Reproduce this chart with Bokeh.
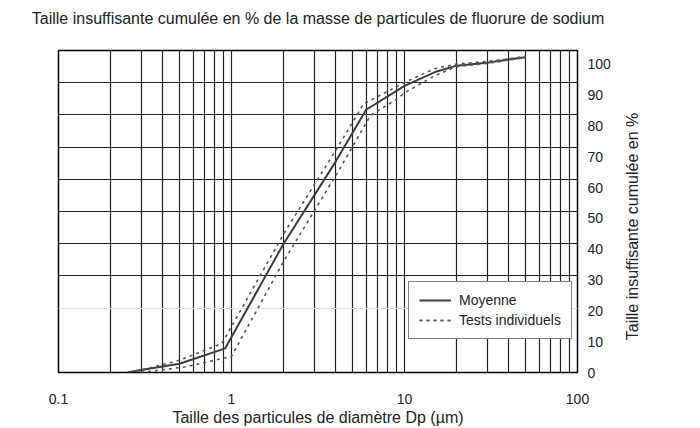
from bokeh.plotting import figure
from bokeh.layouts import row, column
from bokeh.models import Range1d, LinearAxis, FixedTicker, Grid, Legend, LegendItem, Spacer
from bokeh.embed import file_html
from bokeh.resources import INLINE

# Data
mean_x = [0.25, 0.3, 0.5, 0.92, 2, 4, 6, 10, 15, 20, 30, 40, 50]
mean_y = [0, 0.8, 2.7, 7.5, 40, 65.5, 81.6, 89, 93.3, 95.3, 96.2, 97.2, 97.9]

test1_x = [0.28, 0.5, 0.88, 2, 4.17, 5.8, 9.7, 14.8, 20, 30, 40, 50]
test1_y = [0.3, 3.8, 9, 43, 70.5, 83.4, 89.7, 94.3, 95.8, 96.6, 97.4, 98.2]

test2_x = [0.3, 0.55, 1.0, 2, 4.17, 6.35, 8.9, 10.1, 15, 20, 30, 40, 50]
test2_y = [0, 1.8, 5, 34.5, 62.7, 79.8, 84.7, 87, 92.2, 95, 96, 97, 97.8]

x_ticks = [0.1, 1, 10, 100]
x_minor = [m * d for d in [0.1, 1, 10] for m in range(2, 10)]
y_ticks = [0, 10, 20, 30, 40, 50, 60, 70, 80, 90, 100]
y_grid_ticks = [30, 40, 50, 60, 70, 80, 90]

TITLE = "Taille insuffisante cumulée en % de la masse de particules de fluorure de sodium"
FONT = "Liberation Sans"
DARK = "#222222"

p = figure(width=620, height=428, x_axis_type="log",
           x_range=Range1d(0.1, 100), y_range=Range1d(0, 100),
           y_axis_location=None, title_location=None,
           output_backend="svg", toolbar_location=None,
           min_border_left=58, min_border_right=43, min_border_top=50, min_border_bottom=56)

p.background_fill_color = "white"
p.border_fill_color = "white"
p.outline_line_color = "black"
p.outline_line_width = 1.5

# x axis (bottom)
xa = p.below[0]
xa.ticker = FixedTicker(ticks=x_ticks, minor_ticks=x_minor)
xa.major_label_overrides = {0.1: "0.1", 1: "1", 10: "10", 100: "100"}
xa.axis_line_color = None
xa.major_tick_line_color = None
xa.minor_tick_line_color = None
xa.major_label_standoff = 15
xa.major_label_text_font = FONT
xa.major_label_text_font_size = "14px"
xa.major_label_text_color = DARK
xa.axis_label = "Taille des particules de diamètre Dp (µm)"
xa.axis_label_text_font = FONT
xa.axis_label_text_font_size = "16px"
xa.axis_label_text_font_style = "normal"
xa.axis_label_text_color = DARK
xa.axis_label_standoff = 2

p.xgrid.grid_line_color = DARK
p.xgrid.grid_line_width = 1.2
p.xgrid.minor_grid_line_color = DARK
p.xgrid.minor_grid_line_width = 1.2

# the chart title, carried by a tick-less axis above the frame
top_axis = LinearAxis(ticker=FixedTicker(ticks=[]), axis_line_color=None,
                      major_tick_line_color=None, minor_tick_line_color=None,
                      major_tick_out=0, major_tick_in=0, major_label_standoff=0)
top_axis.axis_label = TITLE
top_axis.axis_label_text_font = FONT
top_axis.axis_label_text_font_size = "16px"
top_axis.axis_label_text_font_style = "normal"
top_axis.axis_label_text_color = DARK
top_axis.axis_label_standoff = 24
p.add_layout(top_axis, "above")

yg = Grid(dimension=1, ticker=FixedTicker(ticks=y_grid_ticks),
          grid_line_color=DARK, grid_line_width=1.2)
p.add_layout(yg)

# right axis (its labels follow their own slightly tighter spacing)
p.extra_y_ranges = {"lab": Range1d(0, 104.5)}
ya = LinearAxis(y_range_name="lab", ticker=FixedTicker(ticks=y_ticks))
ya.axis_line_color = None
ya.major_tick_line_color = None
ya.minor_tick_line_color = None
ya.major_label_standoff = 4
ya.major_label_text_font = FONT
ya.major_label_text_font_size = "14px"
ya.major_label_text_color = DARK
p.add_layout(ya, "right")

r_mean = p.line(mean_x, mean_y, line_color="#3c3c3c", line_width=2)
r_t1 = p.line(test1_x, test1_y, line_color="#555555", line_width=1.6, line_dash="3 4")
r_t2 = p.line(test2_x, test2_y, line_color="#555555", line_width=1.6, line_dash="3 4")

legend = Legend(items=[LegendItem(label="Moyenne", renderers=[r_mean]),
                       LegendItem(label="Tests individuels", renderers=[r_t1, r_t2])],
                location=(350, 33))
legend.border_line_color = "black"
legend.border_line_width = 1
legend.background_fill_color = "white"
legend.background_fill_alpha = 1
legend.label_text_font = FONT
legend.label_text_font_size = "14px"
legend.label_text_color = DARK
legend.padding = 10
legend.spacing = 4
legend.label_height = 12
legend.glyph_height = 12
legend.glyph_width = 32
legend.label_standoff = 8
legend.margin = 0
p.add_layout(legend, "center")

# narrow companion panel carrying the right-hand axis title (reads bottom to top)
p2 = figure(width=64, height=398, x_range=Range1d(0, 1), y_range=Range1d(0, 1),
            x_axis_location=None, y_axis_location="left", title_location=None,
            output_backend="svg", toolbar_location=None,
            min_border_left=19, min_border_right=0, min_border_top=50, min_border_bottom=56)
p2.outline_line_color = None
p2.background_fill_color = "white"
p2.border_fill_color = "white"
p2.xgrid.visible = False
p2.ygrid.visible = False
a2 = p2.yaxis[0]
a2.ticker = FixedTicker(ticks=[])
a2.axis_line_color = None
a2.major_tick_line_color = None
a2.minor_tick_line_color = None
a2.major_tick_out = 0
a2.major_tick_in = 0
a2.axis_label = "Taille insuffisante cumulée en %"
a2.axis_label_text_font = FONT
a2.axis_label_text_font_size = "16px"
a2.axis_label_text_font_style = "normal"
a2.axis_label_text_color = DARK
a2.axis_label_standoff = 2

side = column(Spacer(width=64, height=30), p2, spacing=0)
layout = row(p, side, spacing=0)
open("out.html", "w").write(file_html(layout, INLINE))
